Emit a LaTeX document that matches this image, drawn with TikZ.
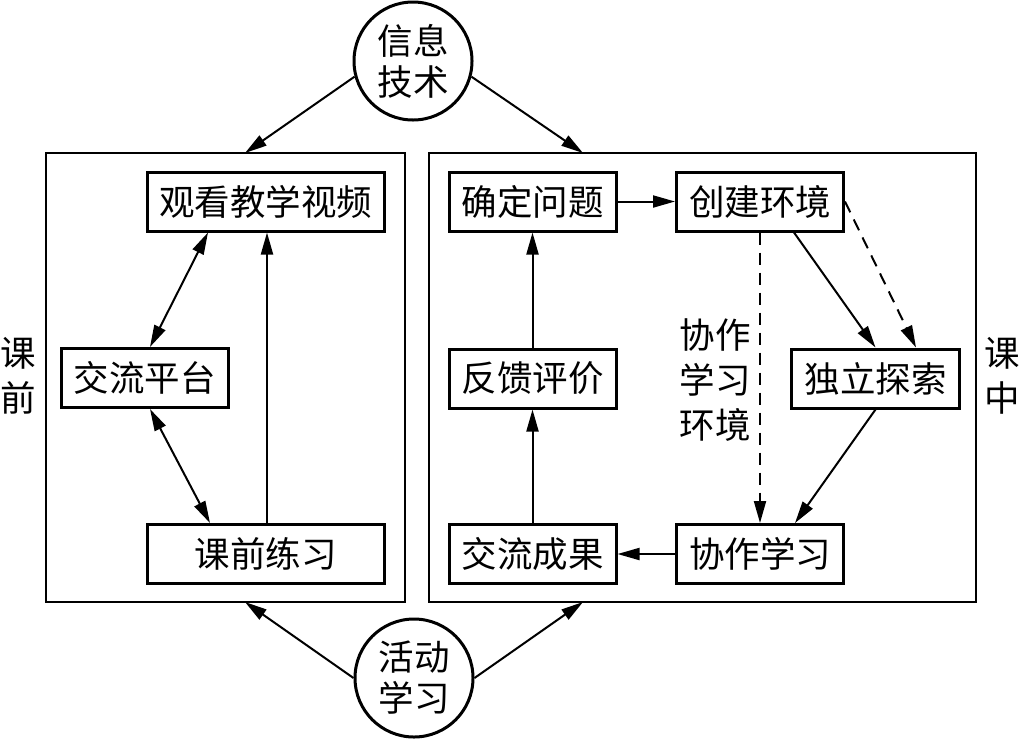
\documentclass[tikz,border=0pt]{standalone}
\usepackage{fontspec}
\setmainfont{Noto Sans CJK SC}
\usetikzlibrary{arrows.meta}
\tikzset{
  box/.style={draw, line width=3pt, minimum height=59pt, inner sep=0pt, font=\fontsize{35.5}{42}\selectfont},
  bigframe/.style={draw, line width=1.5pt},
  circ/.style={draw, circle, line width=3pt, minimum size=118pt, inner sep=0pt, align=center, font=\fontsize{35.5}{41}\selectfont},
  lab/.style={align=center, inner sep=0pt, font=\fontsize{35.5}{45}\selectfont},
  tipA/.tip={Triangle[length=22pt,width=12pt]},
  arr/.style={line width=2pt, -tipA},
  darr/.style={line width=2pt, tipA-tipA},
  dasharr/.style={arr, dash pattern=on 12pt off 8pt},
}
\begin{document}
\begin{tikzpicture}[x=1pt,y=-1pt]
\useasboundingbox (0,0) rectangle (1019,740);
% frames
\draw[bigframe] (46,153) rectangle (405,602);
\draw[bigframe] (429,153) rectangle (976,602);
\coordinate (lt) at (245,153);
\coordinate (rt) at (583,153);
\coordinate (lb) at (245,602);
\coordinate (rb) at (583,602);
% circles
\node[circ] (info) at (413,61) {信息\\技术};
\node[circ] (act) at (414,678) {活动\\学习};
% left boxes
\node[box, minimum width=237pt] (gk) at (265.5,201.5) {观看教学视频};
\node[box, minimum width=167pt] (jl) at (144.5,378) {交流平台};
\node[box, minimum width=237pt] (kq) at (265.5,554) {课前练习};
% right boxes
\node[box, minimum width=167pt] (qd) at (532.5,201.5) {确定问题};
\node[box, minimum width=167pt] (cj) at (760,201.5) {创建环境};
\node[box, minimum width=168pt] (dl) at (875.5,378.5) {独立探索};
\node[box, minimum width=167pt] (fk) at (532.5,378.5) {反馈评价};
\node[box, minimum width=167pt] (jc) at (532.5,554) {交流成果};
\node[box, minimum width=167pt] (xz) at (760,554) {协作学习};
% labels
\node[lab] (env) at (715,380) {协作\\学习\\环境};
\node[lab] (kqian) at (18,376) {课\\前};
\node[lab] (kzhong) at (1002,376) {课\\中};
% arrows from circles
\draw[arr] (info.195) -- (lt);
\draw[arr] (info.-15) -- (rt);
\draw[arr] (act.west) -- (lb);
\draw[arr] (act.east) -- (rb);
% left connectors
\draw[darr] ([xshift=-57.5pt]gk.south) -- ([xshift=5.5pt]jl.north);
\draw[darr] ([xshift=5.5pt]jl.south) -- ([xshift=-55.5pt]kq.north);
\draw[arr] ([xshift=1.5pt]kq.north) -- ([xshift=1.5pt]gk.south);
% right connectors
\draw[arr] (qd.east) -- (cj.west);
\draw[arr] (fk.north) -- (qd.south);
\draw[arr] (jc.north) -- (fk.south);
\draw[arr] (xz.west) -- (jc.east);
\draw[arr] ([xshift=34pt]cj.south) -- (dl.north);
\draw[dasharr] (cj.east) -- ([xshift=40.5pt]dl.north);
\draw[dasharr] (cj.south) -- (xz.north);
\draw[arr] (dl.south) -- ([xshift=35pt]xz.north);
\end{tikzpicture}
\end{document}
